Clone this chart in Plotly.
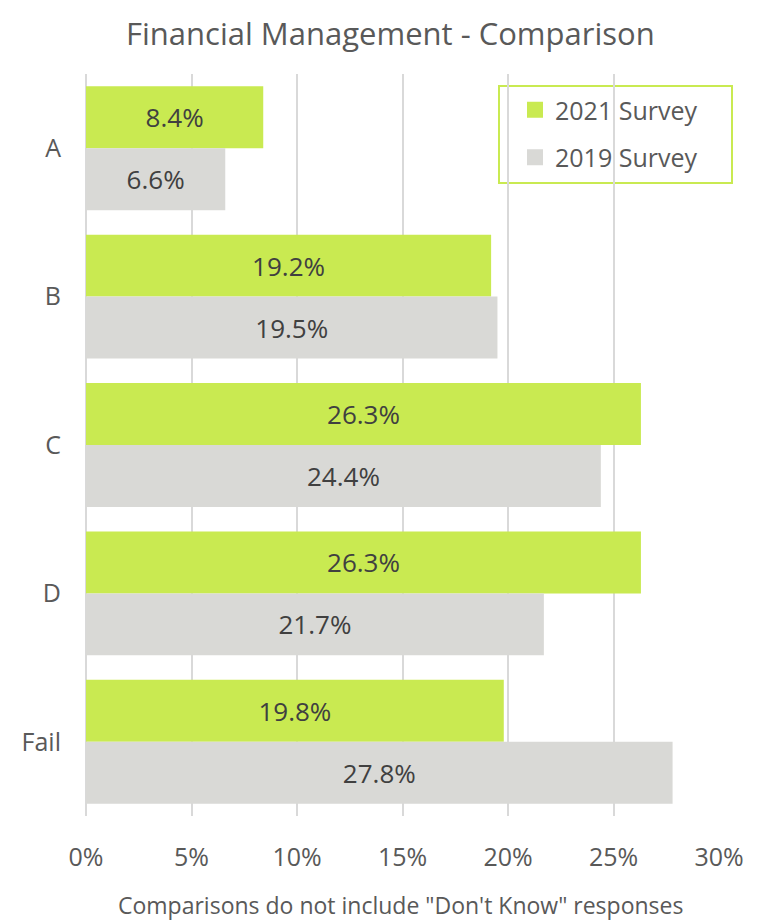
import plotly.graph_objects as go

categories = ["A", "B", "C", "D", "Fail"]
survey_2021 = [8.4, 19.2, 26.3, 26.3, 19.8]
survey_2019 = [6.6, 19.5, 24.4, 21.7, 27.8]
series_names = ["2021 Survey", "2019 Survey"]
x_ticks = [0, 5, 10, 15, 20, 25, 30]
x_tick_labels = ["0%", "5%", "10%", "15%", "20%", "25%", "30%"]

GREEN = "#C9EA51"
GRAY = "#D9D9D6"
TEXT = "#595959"
LABEL = "#404040"
FONT = "Open Sans"

W, H = 759, 914
L, T, PW, PH = 78, 66, 633, 742
R = W - L - PW
B = H - T - PH


def px_x(x):
    return (x - L) / PW


def px_y(y):
    return (T + PH - y) / PH


fig = go.Figure()
for name, vals, col in [(series_names[0], survey_2021, GREEN),
                        (series_names[1], survey_2019, GRAY)]:
    fig.add_trace(go.Bar(
        y=categories, x=vals, orientation="h", name=name, showlegend=False,
        marker=dict(color=col, line=dict(width=0)),
        text=[f"{v:.1f}%" for v in vals], textposition="inside",
        insidetextanchor="middle", textangle=0,
        textfont=dict(size=26, color=LABEL, family=FONT),
    ))
for i, (name, col) in enumerate([(series_names[0], GREEN), (series_names[1], GRAY)]):
    fig.add_trace(go.Scatter(
        x=[None], y=[None], mode="markers", name=name, legendgroup=f"g{i}",
        marker=dict(symbol="square", size=16, color=col), showlegend=True,
    ))

fig.update_layout(
    width=W, height=H,
    paper_bgcolor="white", plot_bgcolor="white",
    margin=dict(l=L, r=R, t=T, b=B, autoexpand=False),
    barmode="group", bargap=0.165, bargroupgap=0,
    font=dict(family=FONT, color=TEXT),
    xaxis=dict(range=[0, 30], tickvals=x_ticks, ticktext=x_tick_labels,
               showgrid=True, gridcolor="#D9D9D9", gridwidth=1.5,
               zeroline=True, zerolinecolor="#D9D9D9", zerolinewidth=1.5,
               showline=False, ticks="", ticklabelstandoff=24,
               tickfont=dict(size=25, color=TEXT, family=FONT), fixedrange=True),
    yaxis=dict(autorange="reversed", showgrid=False, showline=False, ticks="",
               ticklabelstandoff=24, tickfont=dict(size=25, color=TEXT, family=FONT)),
    legend=dict(x=px_x(515 - 8), y=px_y(87 - 8), xanchor="left", yanchor="top",
                bgcolor="rgba(0,0,0,0)", borderwidth=0,
                font=dict(size=25, color=TEXT, family=FONT),
                tracegroupgap=12, itemwidth=30),
    shapes=[dict(type="rect", xref="paper", yref="paper",
                 x0=px_x(499 - 8), x1=px_x(732 - 8),
                 y0=px_y(183 - 8), y1=px_y(86 - 8),
                 line=dict(color=GREEN, width=2), fillcolor="white", layer="below")],
    annotations=[
        dict(text="Financial Management - Comparison",
             xref="paper", yref="paper", x=px_x(390 - 8), y=px_y(2),
             yanchor="top", xanchor="center", showarrow=False,
             font=dict(size=31, color=TEXT, family=FONT)),
        dict(text="Comparisons do not include \"Don't Know\" responses",
             xref="paper", yref="paper", x=px_x(400 - 8), y=px_y(905 - 8),
             yanchor="middle", xanchor="center", showarrow=False,
             font=dict(size=23, color=TEXT, family=FONT)),
    ],
)

fig.write_html("out.html")
